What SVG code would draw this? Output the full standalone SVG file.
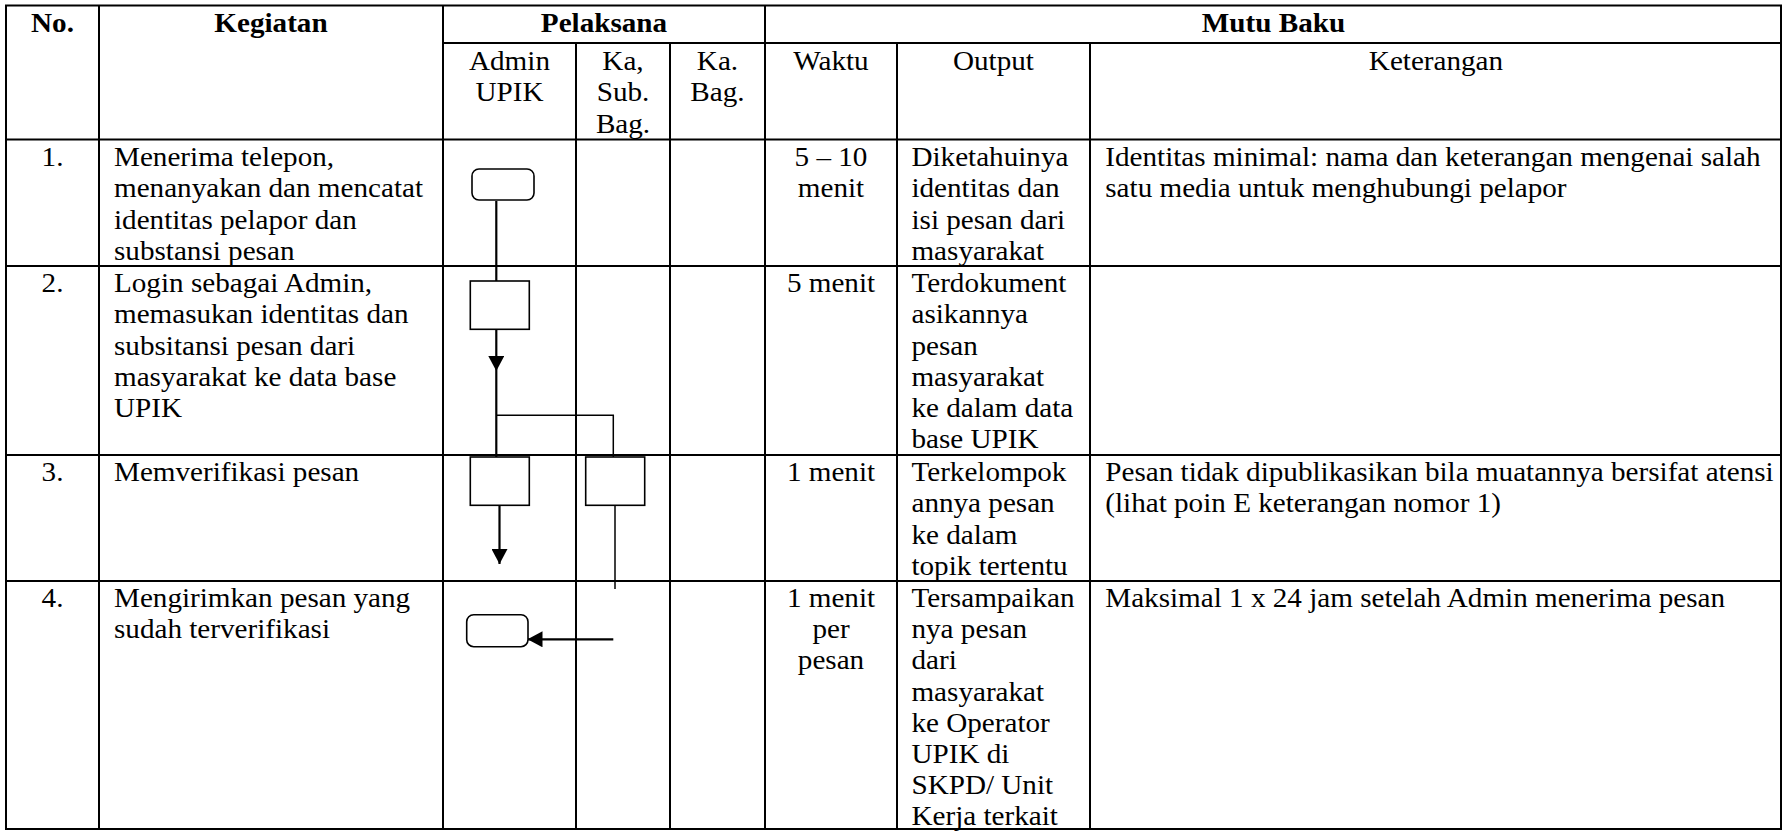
<svg xmlns="http://www.w3.org/2000/svg" width="1784" height="831" viewBox="0 0 1784 831">
<style>
.grid{stroke:#000;stroke-width:2;fill:none}
.t{font-family:"Liberation Serif","Times New Roman",serif;font-size:26.5px;fill:#000}
.b{font-weight:bold}
.c{text-anchor:middle}
.box{fill:#fff;stroke:#000;stroke-width:1.6}
.con{stroke:#000;stroke-width:2.2;fill:none}
.thin{stroke:#000;stroke-width:1.5;fill:none}
</style>
<defs>
<marker id="ah" markerUnits="userSpaceOnUse" markerWidth="15" markerHeight="16" viewBox="0 0 15 16" refX="15" refY="8" orient="auto"><path d="M0,0 L15,8 L0,16 z" fill="#000"/></marker>
</defs>
<rect width="1784" height="831" fill="#fff"/>
<g id="table" class="grid">
<path d="M5,5.5H1782M443,43H1782M5,139.5H1782M5,266H1782M5,455H1782M5,581H1782M5,829H1782"/>
<path d="M6,5.5V829M99,5.5V829M443,5.5V829M576,43V829M670,43V829M765,5.5V829M897,43V829M1090,43V829M1781,5.5V829"/>
</g>
<g id="texts" transform="scale(1.1,1)">
<g id="header" class="t">
<text class="b c" x="47.73" y="32">No.</text>
<text class="b c" x="246.36" y="32">Kegiatan</text>
<text class="b c" x="549.09" y="32">Pelaksana</text>
<text class="b c" x="1157.73" y="32">Mutu Baku</text>
<text class="c" x="463.18" y="70">Admin<tspan x="463.18" dy="31.3">UPIK</tspan></text>
<text class="c" x="566.36" y="70">Ka,<tspan x="566.36" dy="31.3">Sub.</tspan><tspan x="566.36" dy="31.3">Bag.</tspan></text>
<text class="c" x="652.27" y="70">Ka.<tspan x="652.27" dy="31.3">Bag.</tspan></text>
<text class="c" x="755.45" y="70">Waktu</text>
<text class="c" x="903.18" y="70">Output</text>
<text class="c" x="1305.45" y="70">Keterangan</text>
</g>
<g id="row1" class="t">
<text class="c" x="47.73" y="166">1.</text>
<text x="103.64" y="166">Menerima telepon,<tspan x="103.64" dy="31.3">menanyakan dan mencatat</tspan><tspan x="103.64" dy="31.3">identitas pelapor dan</tspan><tspan x="103.64" dy="31.3">substansi pesan</tspan></text>
<text class="c" x="755.45" y="166">5 – 10<tspan x="755.45" dy="31.3">menit</tspan></text>
<text x="828.6" y="166">Diketahuinya<tspan x="828.6" dy="31.3">identitas dan</tspan><tspan x="828.6" dy="31.3">isi pesan dari</tspan><tspan x="828.6" dy="31.3">masyarakat</tspan></text>
<text x="1004.8" y="166">Identitas minimal: nama dan keterangan mengenai salah<tspan x="1004.8" dy="31.3">satu media untuk menghubungi pelapor</tspan></text>
</g>
<g id="row2" class="t">
<text class="c" x="47.73" y="292">2.</text>
<text x="103.64" y="292">Login sebagai Admin,<tspan x="103.64" dy="31.3">memasukan identitas dan</tspan><tspan x="103.64" dy="31.3">subsitansi pesan dari</tspan><tspan x="103.64" dy="31.3">masyarakat ke data base</tspan><tspan x="103.64" dy="31.3">UPIK</tspan></text>
<text class="c" x="755.45" y="292">5 menit</text>
<text x="828.6" y="292">Terdokument<tspan x="828.6" dy="31.3">asikannya</tspan><tspan x="828.6" dy="31.3">pesan</tspan><tspan x="828.6" dy="31.3">masyarakat</tspan><tspan x="828.6" dy="31.3">ke dalam data</tspan><tspan x="828.6" dy="31.3">base UPIK</tspan></text>
</g>
<g id="row3" class="t">
<text class="c" x="47.73" y="481">3.</text>
<text x="103.64" y="481">Memverifikasi pesan</text>
<text class="c" x="755.45" y="481">1 menit</text>
<text x="828.6" y="481">Terkelompok<tspan x="828.6" dy="31.3">annya pesan</tspan><tspan x="828.6" dy="31.3">ke dalam</tspan><tspan x="828.6" dy="31.3">topik tertentu</tspan></text>
<text x="1004.8" y="481">Pesan tidak dipublikasikan bila muatannya bersifat atensi<tspan x="1004.8" dy="31.3">(lihat poin E keterangan nomor 1)</tspan></text>
</g>
<g id="row4" class="t">
<text class="c" x="47.73" y="607">4.</text>
<text x="103.64" y="607">Mengirimkan pesan yang<tspan x="103.64" dy="31.2">sudah terverifikasi</tspan></text>
<text class="c" x="755.45" y="607">1 menit<tspan x="755.45" dy="31.2">per</tspan><tspan x="755.45" dy="31.2">pesan</tspan></text>
<text x="828.6" y="607">Tersampaikan<tspan x="828.6" dy="31.2">nya pesan</tspan><tspan x="828.6" dy="31.2">dari</tspan><tspan x="828.6" dy="31.2">masyarakat</tspan><tspan x="828.6" dy="31.2">ke Operator</tspan><tspan x="828.6" dy="31.2">UPIK di</tspan><tspan x="828.6" dy="31.2">SKPD/ Unit</tspan><tspan x="828.6" dy="31.2">Kerja terkait</tspan></text>
<text x="1004.8" y="607">Maksimal 1 x 24 jam setelah Admin menerima pesan</text>
</g>
</g>
<g id="connectors">
<path class="con" d="M496.3,201V281"/>
<path class="con" d="M496.3,329.5V371" marker-end="url(#ah)"/>
<path class="con" d="M496.3,371V457"/>
<path class="thin" d="M496.3,415.3H613.3V457"/>
<path class="con" d="M499.5,505.5V564" marker-end="url(#ah)"/>
<path class="thin" d="M615,505.5V589"/>
<path class="con" d="M613.3,639.3H527.5" marker-end="url(#ah)"/>
</g>
<g id="n1-start"><rect class="box" x="472" y="169" width="62" height="31" rx="7"/></g>
<g id="n2-input"><rect class="box" x="470.3" y="281" width="59" height="48.3"/></g>
<g id="n3-verify-admin"><rect class="box" x="470.3" y="457" width="59" height="48.3"/></g>
<g id="n3-verify-kasub"><rect class="box" x="585.7" y="457" width="59" height="48.3"/></g>
<g id="n4-end"><rect class="box" x="466.7" y="614.7" width="61.3" height="32" rx="7"/></g>
</svg>
